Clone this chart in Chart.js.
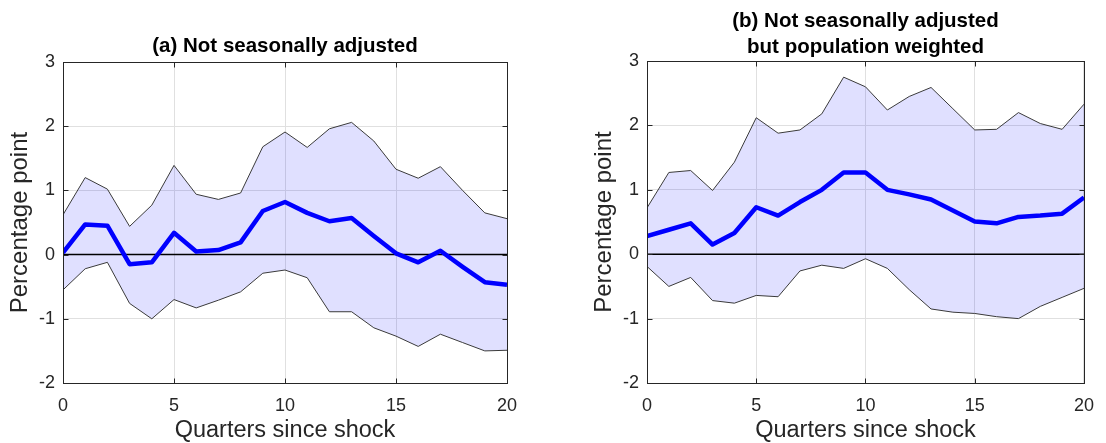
<!DOCTYPE html>
<html>
<head>
<meta charset="utf-8">
<script src="https://cdn.jsdelivr.net/npm/chart.js@4/dist/chart.umd.min.js"></script>
<style>
  html, body { margin: 0; padding: 0; background: #fff; }
  body { width: 1106px; height: 443px; position: relative; overflow: hidden; }
  .panel { position: absolute; top: 0; height: 443px; }
  #panelA { left: 0; width: 553px; }
  #panelB { left: 584px; width: 522px; }
</style>
</head>
<body>
<div class="panel" id="panelA"><canvas id="chartA"></canvas></div>
<div class="panel" id="panelB"><canvas id="chartB"></canvas></div>
<script>
// quarters after the shock
const quarters = [0, 1, 2, 3, 4, 5, 6, 7, 8, 9, 10, 11, 12, 13, 14, 15, 16, 17, 18, 19, 20];
const yTicks = [-2, -1, 0, 1, 2, 3];

// (a) not seasonally adjusted
const meanA  = [0.03, 0.47, 0.45, -0.15, -0.12, 0.34, 0.05, 0.07, 0.19, 0.68, 0.82, 0.65, 0.52, 0.57, 0.29, 0.02, -0.12, 0.06, -0.19, -0.43, -0.47];
const upperA = [0.62, 1.20, 1.02, 0.44, 0.77, 1.39, 0.94, 0.86, 0.96, 1.68, 1.91, 1.67, 1.96, 2.06, 1.77, 1.33, 1.19, 1.37, 1.00, 0.65, 0.56];
const lowerA = [-0.55, -0.22, -0.12, -0.76, -1.00, -0.70, -0.83, -0.71, -0.58, -0.29, -0.24, -0.36, -0.89, -0.89, -1.14, -1.27, -1.43, -1.24, -1.37, -1.50, -1.49];

// (b) not seasonally adjusted, population weighted
const meanB  = [0.28, 0.38, 0.48, 0.15, 0.33, 0.73, 0.60, 0.81, 1.00, 1.27, 1.27, 1.00, 0.93, 0.85, 0.68, 0.51, 0.48, 0.58, 0.60, 0.63, 0.88];
const upperB = [0.72, 1.27, 1.30, 0.99, 1.43, 2.12, 1.88, 1.93, 2.18, 2.75, 2.60, 2.24, 2.45, 2.59, 2.26, 1.93, 1.94, 2.20, 2.03, 1.94, 2.33];
const lowerB = [-0.19, -0.50, -0.36, -0.72, -0.76, -0.64, -0.66, -0.26, -0.17, -0.22, -0.07, -0.22, -0.55, -0.85, -0.90, -0.92, -0.97, -1.00, -0.81, -0.67, -0.53];

const FONT = '"Liberation Sans", Arial, Helvetica, sans-serif';
const AXIS_COLOR = '#262626';
const TICK_LEN = 5;

// box around the plotting area, with short inward tick marks on all four sides
const frameBox = {
    id: 'frameBox',
    afterDraw(chart) {
        const a = chart.chartArea;
        const ctx = chart.ctx;
        const l = Math.round(a.left) + 0.5, r = Math.round(a.right) + 0.5;
        const t = Math.round(a.top) + 0.5, b = Math.round(a.bottom) + 0.5;
        ctx.save();
        ctx.strokeStyle = AXIS_COLOR;
        ctx.lineWidth = 1;
        ctx.beginPath();
        chart.scales.x.ticks.forEach(tk => {
            const px = Math.round(chart.scales.x.getPixelForValue(tk.value)) + 0.5;
            ctx.moveTo(px, b); ctx.lineTo(px, b - TICK_LEN);
            ctx.moveTo(px, t); ctx.lineTo(px, t + TICK_LEN);
        });
        chart.scales.y.ticks.forEach(tk => {
            const py = Math.round(chart.scales.y.getPixelForValue(tk.value)) + 0.5;
            ctx.moveTo(l, py); ctx.lineTo(l + TICK_LEN, py);
            ctx.moveTo(r, py); ctx.lineTo(r - TICK_LEN, py);
        });
        ctx.stroke();
        ctx.strokeRect(l, t, r - l, b - t);
        ctx.restore();
    }
};

function pts(values) {
    return quarters.map((q, i) => ({ x: q, y: values[i] }));
}

function createPanel(canvasId, title, mean, upper, lower, rightPad, titlePad) {
    const ctx = document.getElementById(canvasId).getContext('2d');
    return new Chart(ctx, {
        type: 'line',
        data: {
            datasets: [
                {
                    label: 'upper',
                    data: pts(upper),
                    borderColor: '#3a3a3a',
                    borderWidth: 1,
                    backgroundColor: 'rgba(0, 0, 255, 0.12)',
                    fill: '+1',
                    order: 4
                },
                {
                    label: 'lower',
                    data: pts(lower),
                    borderColor: '#3a3a3a',
                    borderWidth: 1,
                    fill: false,
                    order: 3
                },
                {
                    label: 'zero',
                    data: pts(quarters.map(() => 0)),
                    borderColor: '#000',
                    borderWidth: 1.5,
                    fill: false,
                    order: 2
                },
                {
                    label: 'mean',
                    data: pts(mean),
                    borderColor: '#0000ff',
                    borderWidth: 4.5,
                    fill: false,
                    order: 1
                }
            ]
        },
        options: {
            responsive: true,
            maintainAspectRatio: false,
            animation: false,
            elements: {
                point: { radius: 0, hoverRadius: 0 },
                line: { tension: 0, borderJoinStyle: 'round' }
            },
            layout: { padding: { left: 0, right: rightPad, top: 0, bottom: 0 } },
            scales: {
                x: {
                    type: 'linear',
                    min: 0,
                    max: 20,
                    afterFit(scale) { scale.height = 60; },
                    ticks: {
                        stepSize: 5,
                        color: AXIS_COLOR,
                        padding: 12,
                        maxRotation: 0,
                        font: { family: FONT, size: 18 }
                    },
                    grid: { color: '#e0e0e0', drawTicks: false },
                    border: { display: false },
                    title: {
                        display: true,
                        text: 'Quarters since shock',
                        color: AXIS_COLOR,
                        font: { family: FONT, size: 23.5, lineHeight: 1 },
                        padding: { top: 0, bottom: 1 }
                    }
                },
                y: {
                    min: yTicks[0],
                    max: yTicks[yTicks.length - 1],
                    afterFit(scale) { scale.width = 63; },
                    afterBuildTicks(scale) { scale.ticks = yTicks.map(v => ({ value: v })); },
                    ticks: {
                        color: AXIS_COLOR,
                        padding: 8,
                        font: { family: FONT, size: 18 }
                    },
                    grid: { color: '#e0e0e0', drawTicks: false },
                    border: { display: false },
                    title: {
                        display: true,
                        text: 'Percentage point',
                        color: AXIS_COLOR,
                        font: { family: FONT, size: 24, lineHeight: 1 },
                        padding: { top: 8, bottom: 0 }
                    }
                }
            },
            plugins: {
                legend: { display: false },
                tooltip: { enabled: false },
                title: {
                    display: true,
                    text: title,
                    fullSize: false,
                    color: '#000',
                    font: { family: FONT, size: 20.5, weight: 'bold', lineHeight: 1.27 },
                    padding: titlePad
                }
            }
        },
        plugins: [frameBox]
    });
}

createPanel('chartA', '(a) Not seasonally adjusted', meanA, upperA, lowerA, 46,
            { top: 33, bottom: 3 });
createPanel('chartB', ['(b) Not seasonally adjusted', 'but population weighted'], meanB, upperB, lowerB, 16,
            { top: 8, bottom: 1 });
</script>
</body>
</html>
